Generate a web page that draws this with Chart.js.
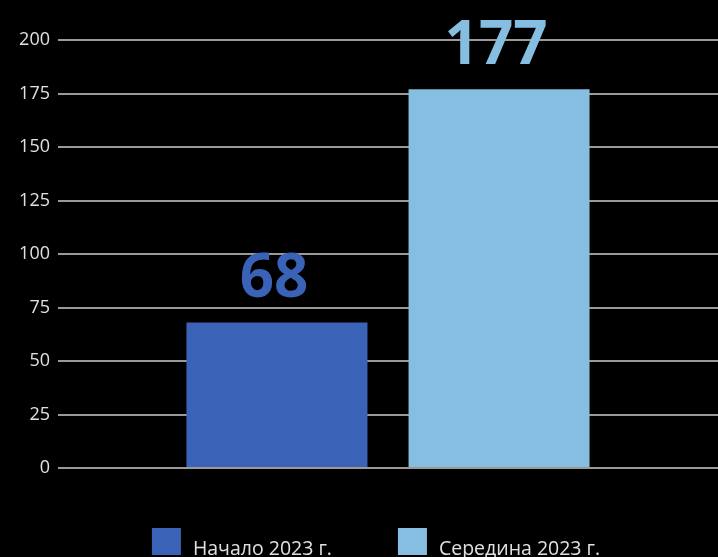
<!DOCTYPE html>
<html lang="ru">
<head>
<meta charset="utf-8">
<title>Начало и середина 2023 г.</title>
<script src="https://cdn.jsdelivr.net/npm/chart.js"></script>
<style>
  html, body { margin: 0; padding: 0; background: #000; }
  #wrap { width: 718px; height: 557px; }
</style>
</head>
<body>
<div id="wrap"><canvas id="myChart"></canvas></div>
<script>
    // data
    var categories = ['2023'];
    var seriesNames = ['Начало 2023 г.', 'Середина 2023 г.'];
    var startValues = [68];
    var midValues = [177];
    var yMin = 0, yMax = 200, yStep = 25;

    var darkBlue = '#3a63b8';
    var lightBlue = '#85bee0';

    // big value labels over the bars
    var valueLabels = {
        id: 'valueLabels',
        afterDatasetsDraw: function (chart) {
            var ctx = chart.ctx;
            ctx.save();
            ctx.font = 'bold 60px "Open Sans"';
            ctx.textAlign = 'center';
            ctx.textBaseline = 'alphabetic';
            chart.data.datasets.forEach(function (ds, i) {
                var meta = chart.getDatasetMeta(i);
                meta.data.forEach(function (bar, j) {
                    ctx.fillStyle = ds.backgroundColor;
                    ctx.fillText(ds.data[j], bar.x - 3, bar.y - 25);
                });
            });
            ctx.restore();
        }
    };

    // legend along the bottom edge (wider spacing than the built-in one allows)
    var bottomLegend = {
        id: 'bottomLegend',
        afterDraw: function (chart) {
            var ctx = chart.ctx;
            var boxW = 29, boxH = 27, gap = 12, spacing = 66;
            ctx.save();
            ctx.font = '19.5px "Open Sans"';
            var items = chart.data.datasets.map(function (ds) {
                return { text: ds.label, color: ds.backgroundColor, w: ctx.measureText(ds.label).width };
            });
            var total = 0;
            items.forEach(function (it, i) {
                total += boxW + gap + it.w + (i < items.length - 1 ? spacing : 0);
            });
            var center = (chart.chartArea.left + chart.chartArea.right) / 2 - 12;
            var x = center - total / 2;
            var top = chart.chartArea.bottom + 60;
            ctx.textBaseline = 'alphabetic';
            ctx.textAlign = 'left';
            items.forEach(function (it) {
                ctx.fillStyle = it.color;
                ctx.fillRect(x, top, boxW, boxH);
                ctx.fillStyle = '#e0e0e0';
                ctx.fillText(it.text, x + boxW + gap, top + boxH);
                x += boxW + gap + it.w + spacing;
            });
            ctx.restore();
        }
    };

    let ctx = document.getElementById('myChart').getContext('2d');
    let myChart = new Chart(ctx, {
        type: 'bar',
        data: {
            labels: categories,
            datasets: [
                {
                    label: seriesNames[0],
                    data: startValues,
                    backgroundColor: darkBlue,
                    borderWidth: 0
                },
                {
                    label: seriesNames[1],
                    data: midValues,
                    backgroundColor: lightBlue,
                    borderWidth: 0
                }
            ]
        },
        options: {
            responsive: true,
            maintainAspectRatio: false,
            animation: false,
            categoryPercentage: 0.673,
            barPercentage: 0.815,
            layout: { padding: { top: 40, right: 0, bottom: 0, left: 0 } },
            plugins: {
                tooltip: { enabled: false },
                legend: { display: false }
            },
            scales: {
                x: {
                    ticks: { display: false },
                    grid: { display: false },
                    border: { display: false },
                    afterFit: function (axis) { axis.height = 89; }
                },
                y: {
                    min: yMin,
                    max: yMax,
                    ticks: {
                        stepSize: yStep,
                        color: '#e0e0e0',
                        padding: 8,
                        font: { family: '"Open Sans"', size: 18 }
                    },
                    grid: { color: '#9a9a9a', lineWidth: 2, drawTicks: false },
                    border: { display: false },
                    afterFit: function (axis) { axis.width = 58; }
                }
            }
        },
        plugins: [valueLabels, bottomLegend]
    });
</script>
</body>
</html>
